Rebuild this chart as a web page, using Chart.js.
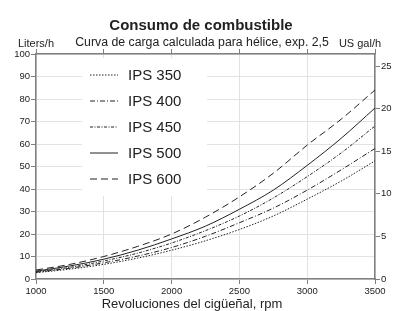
<!DOCTYPE html>
<html>
<head>
<meta charset="utf-8">
<script src="https://cdn.jsdelivr.net/npm/chart.js@4.4.1/dist/chart.umd.min.js"></script>
<style>
  html, body { margin: 0; padding: 0; background: #fff; }
  #wrap { width: 394px; height: 311px; position: relative; }
</style>
</head>
<body>
<div id="wrap"><canvas id="fuelChart"></canvas></div>
<script>
// rpm points
const rpm = [1000, 1250, 1500, 1750, 2000, 2250, 2500, 2750, 3000, 3250, 3500];

// fuel consumption, liters/h
const ips350 = [2.8, 4.4, 6.5, 9.3, 12.8, 17, 22, 28, 35.5, 43.5, 52.5];
const ips400 = [3.0, 4.8, 7.2, 10.2, 14, 19, 25, 31.5, 39.5, 48.5, 58];
const ips450 = [3.2, 5.2, 8.0, 11.5, 16, 21.5, 28, 36, 45.5, 56, 68];
const ips500 = [3.5, 5.8, 8.8, 12.8, 17.8, 23.5, 31, 39.5, 50.5, 62.5, 76];
const ips600 = [4.0, 6.5, 10, 14.5, 20, 27.5, 36.5, 47, 59.5, 71, 84];

const seriesNames = ['IPS 350', 'IPS 400', 'IPS 450', 'IPS 500', 'IPS 600'];
const dashes = [[1.5, 1.5], [5, 2, 1, 2], [3, 1.5, 1, 1.5], [], [7, 4]];

const LITERS_PER_GAL = 3.785;
const gray = '#808080';
const ink = '#222';
const tickFont = { family: "'Liberation Sans Narrow', 'Liberation Sans', Arial, sans-serif", size: 9.5 };
const plain = (v) => String(v);

const toPoints = (vals) => rpm.map((r, i) => ({ x: r, y: vals[i] }));

const datasets = [ips350, ips400, ips450, ips500, ips600].map((vals, i) => ({
  label: seriesNames[i],
  data: toPoints(vals),
  borderColor: ink,
  borderWidth: 1,
  borderDash: dashes[i],
  pointRadius: 0,
  cubicInterpolationMode: 'monotone',
  fill: false
}));

const decor = {
  id: 'decor',
  afterDatasetsDraw(chart) {
    const { ctx } = chart;
    ctx.save();

    // legend box
    ctx.fillStyle = '#fff';
    ctx.fillRect(82, 58, 125, 138);
    chart.data.datasets.forEach((ds, i) => {
      const y = 75 + i * 26;
      ctx.strokeStyle = ink;
      ctx.lineWidth = 1;
      ctx.setLineDash(ds.borderDash || []);
      ctx.beginPath();
      ctx.moveTo(90, y);
      ctx.lineTo(118, y);
      ctx.stroke();
      ctx.setLineDash([]);
      ctx.fillStyle = ink;
      ctx.font = "15px 'Liberation Sans', Arial, sans-serif";
      ctx.textAlign = 'left';
      ctx.textBaseline = 'middle';
      ctx.fillText(ds.label, 128, y + 1);
    });

    // titles
    ctx.fillStyle = ink;
    ctx.textAlign = 'center';
    ctx.textBaseline = 'alphabetic';
    ctx.font = "bold 15px 'Liberation Sans', Arial, sans-serif";
    ctx.fillText('Consumo de combustible', 201, 30);
    ctx.font = "12.3px 'Liberation Sans', Arial, sans-serif";
    ctx.fillText('Curva de carga calculada para hélice, exp. 2,5', 202, 46);
    ctx.font = "11px 'Liberation Sans', Arial, sans-serif";
    ctx.fillText('Liters/h', 36, 47);
    ctx.fillText('US gal/h', 360, 47);
    ctx.font = "13px 'Liberation Sans', Arial, sans-serif";
    ctx.fillText('Revoluciones del cigüeñal, rpm', 192, 308);
    ctx.restore();
  }
};

new Chart(document.getElementById('fuelChart'), {
  type: 'line',
  data: { datasets },
  options: {
    responsive: true,
    maintainAspectRatio: false,
    animation: false,
    layout: { padding: { top: 48, left: 0, right: 0, bottom: 0 } },
    plugins: { legend: { display: false }, tooltip: { enabled: false } },
    scales: {
      x: {
        type: 'linear', position: 'bottom', min: 1000, max: 3500,
        ticks: { stepSize: 500, font: tickFont, color: ink, padding: 2, maxRotation: 0, callback: plain },
        grid: { color: '#e2e2e2', tickColor: gray, tickLength: 5 },
        border: { color: gray, width: 1.5 },
        afterFit: (s) => { s.height = 32; }
      },
      xTop: {
        type: 'linear', position: 'top', min: 1000, max: 3500,
        ticks: { stepSize: 500, display: false },
        grid: { drawOnChartArea: false, tickColor: gray, tickLength: 5 },
        border: { color: gray, width: 1.5 },
        afterFit: (s) => { s.height = 6; }
      },
      y: {
        position: 'left', min: 0, max: 100,
        ticks: { stepSize: 10, font: tickFont, color: ink, padding: 1, callback: plain },
        grid: { color: '#e2e2e2', tickColor: gray, tickLength: 5 },
        border: { color: gray, width: 1.5 },
        afterFit: (s) => { s.width = 36; }
      },
      y2: {
        position: 'right', min: 0, max: 100 / LITERS_PER_GAL,
        ticks: { stepSize: 5, includeBounds: false, font: tickFont, color: ink, padding: 1, callback: plain },
        grid: { drawOnChartArea: false, tickColor: gray, tickLength: 5 },
        border: { color: gray, width: 1.5 },
        afterFit: (s) => { s.width = 19; }
      }
    }
  },
  plugins: [decor]
});
</script>
</body>
</html>
